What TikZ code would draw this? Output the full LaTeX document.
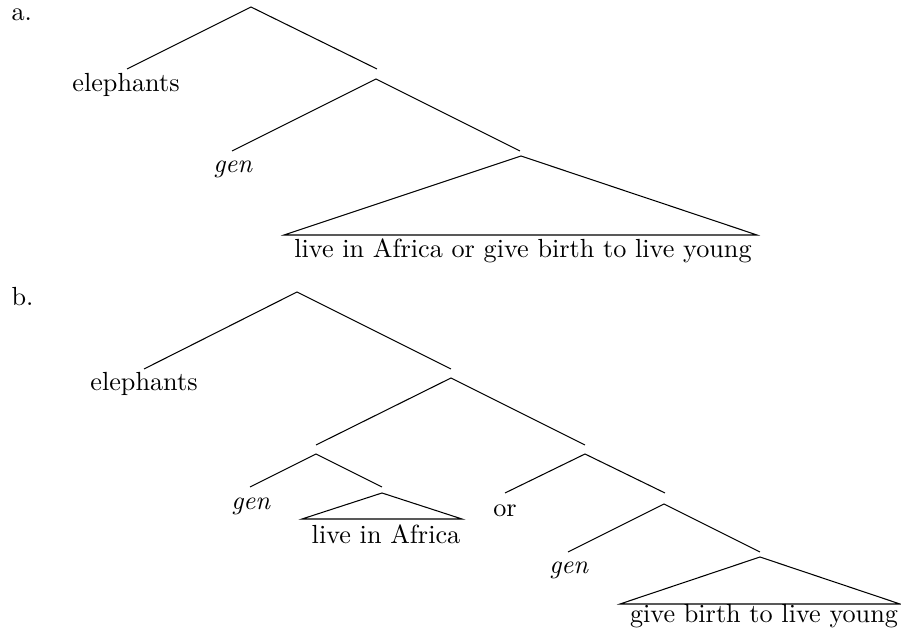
\documentclass[tikz,border=0pt]{standalone}
\begin{document}
\begin{tikzpicture}[x=0.3817pt,y=-0.3817pt,
  lbl/.style={inner sep=0pt,anchor=base},
  branch/.style={line width=0.4pt}]
\useasboundingbox (0,0) rectangle (901,637);
% ---------- tree a ----------
\node[lbl,anchor=base west] (la) at (11,21) {a.};
\coordinate (A0) at (251,7);
\coordinate (A0l) at (127,69);
\coordinate (A0r) at (377,69);
\node[lbl] (ael) at (126,92) {elephants};
\coordinate (A1) at (376,79);
\coordinate (A1l) at (232,151);
\coordinate (A1r) at (520,151);
\node[lbl] (agen) at (233,173) {\textit{gen}};
\coordinate (A2) at (521,156);
\coordinate (A2bl) at (284,235);
\coordinate (A2br) at (757,235);
\node[lbl] (avp) at (523,258) {live in Africa or give birth to live young};
\draw[branch] (A0l) -- (A0) -- (A0r);
\draw[branch] (A1l) -- (A1) -- (A1r);
\draw[branch] (A2) -- (A2bl) -- (A2br) -- cycle;
% ---------- tree b ----------
\node[lbl,anchor=base west] (lb) at (11,306) {b.};
\coordinate (B0) at (297,292);
\coordinate (B0l) at (144,369);
\coordinate (B0r) at (451,369);
\node[lbl] (bel) at (144,391) {elephants};
\coordinate (B1) at (451,378);
\coordinate (B1l) at (316,445);
\coordinate (B1r) at (585,445);
\coordinate (B2) at (316,454);
\coordinate (B2l) at (250,487);
\coordinate (B2r) at (382,487);
\node[lbl] (bgen1) at (251,510) {\textit{gen}};
\coordinate (B3) at (382,493);
\coordinate (B3bl) at (302,519);
\coordinate (B3br) at (462,519);
\node[lbl] (bafr) at (386,544) {live in Africa};
\coordinate (B4) at (585,454);
\coordinate (B4l) at (505,493);
\coordinate (B4r) at (665,493);
\node[lbl] (bor) at (505,517) {or};
\coordinate (B5) at (664,504);
\coordinate (B5l) at (568,552);
\coordinate (B5r) at (760,552);
\node[lbl] (bgen2) at (569,574) {\textit{gen}};
\coordinate (B6) at (760,557);
\coordinate (B6bl) at (620,604);
\coordinate (B6br) at (900,604);
\node[lbl] (bgive) at (764,623) {give birth to live young};
\draw[branch] (B0l) -- (B0) -- (B0r);
\draw[branch] (B1l) -- (B1) -- (B1r);
\draw[branch] (B2l) -- (B2) -- (B2r);
\draw[branch] (B3) -- (B3bl) -- (B3br) -- cycle;
\draw[branch] (B4l) -- (B4) -- (B4r);
\draw[branch] (B5l) -- (B5) -- (B5r);
\draw[branch] (B6) -- (B6bl) -- (B6br) -- cycle;
\end{tikzpicture}
\end{document}
